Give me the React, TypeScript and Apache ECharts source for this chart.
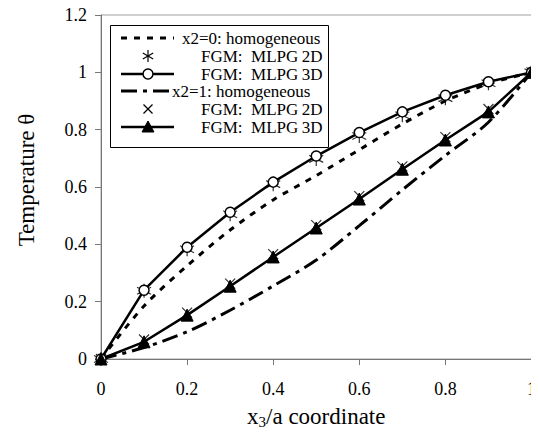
import React, { useEffect, useRef } from "react";
import * as echarts from "echarts";

// x3/a positions along the thickness
const xs = [0, 0.1, 0.2, 0.3, 0.4, 0.5, 0.6, 0.7, 0.8, 0.9, 1];

// x2 = 0 plane
const homog0 = [0, 0.185, 0.325, 0.45, 0.555, 0.64, 0.73, 0.82, 0.9, 0.96, 1];
const mlpg2d0 = [0, 0.238, 0.383, 0.505, 0.61, 0.698, 0.778, 0.85, 0.91, 0.962, 1];
const mlpg3d0 = [0, 0.24, 0.39, 0.512, 0.617, 0.708, 0.79, 0.862, 0.92, 0.967, 1];

// x2 = 1 plane
const homog1 = [0, 0.04, 0.095, 0.17, 0.255, 0.345, 0.465, 0.59, 0.71, 0.826, 1];
const mlpg2d1 = [0, 0.068, 0.162, 0.263, 0.366, 0.467, 0.568, 0.672, 0.774, 0.872, 1];
const mlpg3d1 = [0, 0.06, 0.153, 0.254, 0.356, 0.457, 0.558, 0.662, 0.764, 0.862, 1];

const seriesNames = [
  "x2=0: homogeneous",
  "FGM:\u2002MLPG\u20092D",
  "FGM:\u2002MLPG\u20093D",
  "x2=1: homogeneous",
  "FGM:\u2002MLPG\u20092D",
  "FGM:\u2002MLPG\u20093D",
];

const yTicks = [0, 0.2, 0.4, 0.6, 0.8, 1, 1.2];

const FONT = "Liberation Serif";
const DOTTED = [6, 7];
const DASH_DOT = [16, 6, 4, 6];

const ASTERISK = "path://M5,0L5,10M0.7,2.5L9.3,7.5M0.7,7.5L9.3,2.5";
const CROSS = "path://M0,0L10,10M0,10L10,0";

const pairs = (ys: number[]) => xs.map((x, i) => [x, ys[i]]);

// legend key drawn with graphic elements
function legendGraphic() {
  const rowY = [38, 56, 74, 91, 109, 127];
  const textX = [182, 201, 201, 172, 201, 201];
  const x1 = 121;
  const x2 = 174;
  const cx = 148;
  const els: any[] = [
    {
      type: "rect",
      shape: { x: 110.5, y: 25.5, width: 218, height: 122 },
      style: { fill: "#fff", stroke: "#000", lineWidth: 1 },
      z: 10,
    },
  ];
  const seg = (a: number, b: number, c: number, d: number) => ({
    type: "line",
    shape: { x1: a, y1: b, x2: c, y2: d },
    style: { stroke: "#000", lineWidth: 1.2 },
    z: 11,
  });
  rowY.forEach((y, i) => {
    const kind = i % 3;
    if (kind === 0) {
      els.push({
        type: "line",
        shape: { x1, y1: y, x2, y2: y },
        style: { stroke: "#000", lineWidth: 3, lineDash: i === 0 ? DOTTED : DASH_DOT },
        z: 11,
      });
    } else if (kind === 1) {
      if (i === 1) {
        els.push(seg(cx, y - 6, cx, y + 6));
        els.push(seg(cx - 5.2, y - 3, cx + 5.2, y + 3));
        els.push(seg(cx - 5.2, y + 3, cx + 5.2, y - 3));
      } else {
        els.push(seg(cx - 4.5, y - 4.5, cx + 4.5, y + 4.5));
        els.push(seg(cx - 4.5, y + 4.5, cx + 4.5, y - 4.5));
      }
    } else {
      els.push({
        type: "line",
        shape: { x1, y1: y, x2, y2: y },
        style: { stroke: "#000", lineWidth: 2.5 },
        z: 11,
      });
      if (i === 2) {
        els.push({
          type: "circle",
          shape: { cx, cy: y, r: 5 },
          style: { fill: "#fff", stroke: "#000", lineWidth: 1.5 },
          z: 12,
        });
      } else {
        els.push({
          type: "polygon",
          shape: { points: [[cx, y - 6], [cx + 6, y + 5], [cx - 6, y + 5]] },
          style: { fill: "#000", stroke: "#000", lineWidth: 1 },
          z: 12,
        });
      }
    }
    els.push({
      type: "text",
      x: textX[i],
      y,
      style: {
        text: seriesNames[i],
        fontSize: 17,
        fontFamily: FONT,
        fill: "#000",
        verticalAlign: "middle",
      },
      z: 12,
    });
  });
  return els;
}

export default function App() {
  const ref = useRef<HTMLDivElement>(null);

  useEffect(() => {
    if (!ref.current) return;
    const chart = echarts.init(ref.current, undefined, { renderer: "svg" });
    const axisColor = "#777";
    chart.setOption({
      animation: false,
      backgroundColor: "#fff",
      textStyle: { fontFamily: FONT },
      grid: {
        left: 101,
        top: 15,
        right: 6,
        bottom: 80,
        show: true,
        borderColor: "#a0a0a0",
        borderWidth: 1,
      },
      xAxis: {
        type: "value",
        min: 0,
        max: 1,
        interval: 0.2,
        name: "{a|x}{s|3}{a|/a coordinate}",
        nameLocation: "middle",
        nameGap: 44,
        nameTextStyle: {
          rich: {
            a: { fontSize: 23, fontFamily: FONT, color: "#000", lineHeight: 26, verticalAlign: "middle" },
            s: { fontSize: 15, fontFamily: FONT, color: "#000", lineHeight: 26, verticalAlign: "bottom" },
          },
        },
        axisLine: { show: true, lineStyle: { color: axisColor, width: 1 } },
        axisTick: { show: true, inside: false, length: 6, lineStyle: { color: axisColor } },
        axisLabel: {
          fontSize: 18,
          fontFamily: FONT,
          color: "#000",
          margin: 21,
          formatter: (v: number) => String(+v.toFixed(1)),
        },
        splitLine: { show: false },
      },
      yAxis: {
        type: "value",
        min: yTicks[0],
        max: yTicks[yTicks.length - 1],
        interval: 0.2,
        name: "Temperature θ",
        nameLocation: "middle",
        nameRotate: 90,
        nameGap: 63,
        nameTextStyle: { fontSize: 23, fontFamily: FONT, color: "#000", padding: [0, 0, 0, 14] },
        axisLine: { show: true, lineStyle: { color: axisColor, width: 1 } },
        axisTick: { show: true, inside: false, length: 6, lineStyle: { color: axisColor } },
        axisLabel: {
          fontSize: 18,
          fontFamily: FONT,
          color: "#000",
          margin: 14,
          formatter: (v: number) => String(+v.toFixed(1)),
        },
        splitLine: { show: false },
      },
      series: [
        {
          name: seriesNames[0],
          type: "line",
          data: pairs(homog0),
          smooth: 0.3,
          symbol: "none",
          lineStyle: { color: "#000", width: 3, type: DOTTED },
        },
        {
          name: seriesNames[1],
          type: "scatter",
          data: pairs(mlpg2d0),
          symbol: ASTERISK,
          symbolSize: 14,
          itemStyle: { color: "none", borderColor: "#000", borderWidth: 1.2 },
        },
        {
          name: seriesNames[2],
          type: "line",
          data: pairs(mlpg3d0),
          symbol: "circle",
          symbolSize: 10,
          showAllSymbol: true,
          lineStyle: { color: "#000", width: 2.5 },
          itemStyle: { color: "#fff", borderColor: "#000", borderWidth: 1.5 },
        },
        {
          name: seriesNames[3],
          type: "line",
          data: pairs(homog1),
          smooth: 0.3,
          symbol: "none",
          lineStyle: { color: "#000", width: 3, type: DASH_DOT },
        },
        {
          name: seriesNames[4],
          type: "scatter",
          data: pairs(mlpg2d1),
          symbol: CROSS,
          symbolSize: 10,
          itemStyle: { color: "none", borderColor: "#000", borderWidth: 1.2 },
        },
        {
          name: seriesNames[5],
          type: "line",
          data: pairs(mlpg3d1),
          symbol: "triangle",
          symbolSize: 12,
          showAllSymbol: true,
          lineStyle: { color: "#000", width: 2.5 },
          itemStyle: { color: "#000", borderColor: "#000", borderWidth: 1 },
        },
      ],
      graphic: legendGraphic(),
    });
    return () => chart.dispose();
  }, []);

  return <div ref={ref} style={{ width: 539, height: 439, margin: -8 }} />;
}
